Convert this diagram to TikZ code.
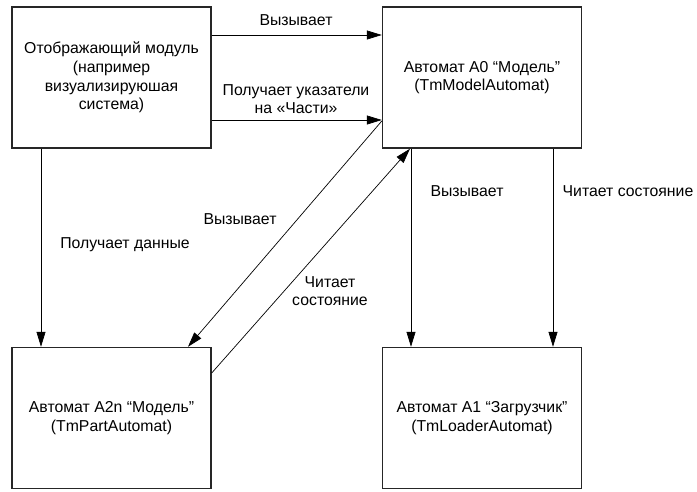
\documentclass[tikz,border=0pt]{standalone}
\usepackage{fontspec}
\setmainfont{Liberation Sans}
\usetikzlibrary{arrows.meta}
\newcommand\diagfont{\fontsize{15.8}{18.7}\selectfont}
\begin{document}
\begin{tikzpicture}[x=1pt,y=-1pt,
  box/.style={draw=black!85, line width=1.4pt, minimum width=199pt, minimum height=141pt,
              align=center, inner sep=0pt, font=\diagfont},
  arr/.style={-{Triangle[length=15pt,width=9pt]}, line width=0.7pt},
  lbl/.style={align=center, inner sep=0pt, font=\diagfont}]
\useasboundingbox (0,0) rectangle (697,491);

% blocks
\node[box] (disp)  at (111.5,77.5) {Отображающий модуль\\(например\\визуализируюшая\\система)};
\node[box] (model) at (482,77.5)   {Автомат A0 “Модель”\\(TmModelAutomat)};
\node[box] (part)  at (111.5,418)  {Автомат A2n “Модель”\\(TmPartAutomat)};
\node[box] (load)  at (482,418)    {Автомат A1 “Загрузчик”\\(TmLoaderAutomat)};

% connector end points on the block borders
\coordinate (d1) at (disp.east  |- 0,35);
\coordinate (m1) at (model.west |- 0,35);
\coordinate (d2) at (disp.east  |- 0,120);
\coordinate (m2) at (model.west |- 0,120);
\coordinate (d3) at (disp.south -| 41,0);
\coordinate (p3) at (part.north -| 41,0);
\coordinate (m4) at (model.west |- 0,121);
\coordinate (p4) at (part.north -| 188,0);
\coordinate (p5) at (part.east  |- 0,373);
\coordinate (m5) at (model.south -| 410,0);
\coordinate (m6) at (model.south -| 411,0);
\coordinate (l6) at (load.north  -| 411,0);
\coordinate (m7) at (model.south -| 553,0);
\coordinate (l7) at (load.north  -| 553,0);

% connectors
\draw[arr] (d1) -- (m1);
\draw[arr] (d2) -- (m2);
\draw[arr] (d3) -- (p3);
\draw[arr] (m4) -- (p4);
\draw[arr] (p5) -- (m5);
\draw[arr] (m6) -- (l6);
\draw[arr] (m7) -- (l7);

% connector labels
\node[lbl] (t1) at (296,20)  {Вызывает};
\node[lbl] (t2) at (296,99)  {Получает указатели\\на «Части»};
\node[lbl] (t3) at (125,245) {Получает данные};
\node[lbl] (t4) at (240,219) {Вызывает};
\node[lbl] (t5) at (330,291) {Читает\\состояние};
\node[lbl] (t6) at (467,191) {Вызывает};
\node[lbl] (t7) at (628,191) {Читает состояние};
\end{tikzpicture}
\end{document}
